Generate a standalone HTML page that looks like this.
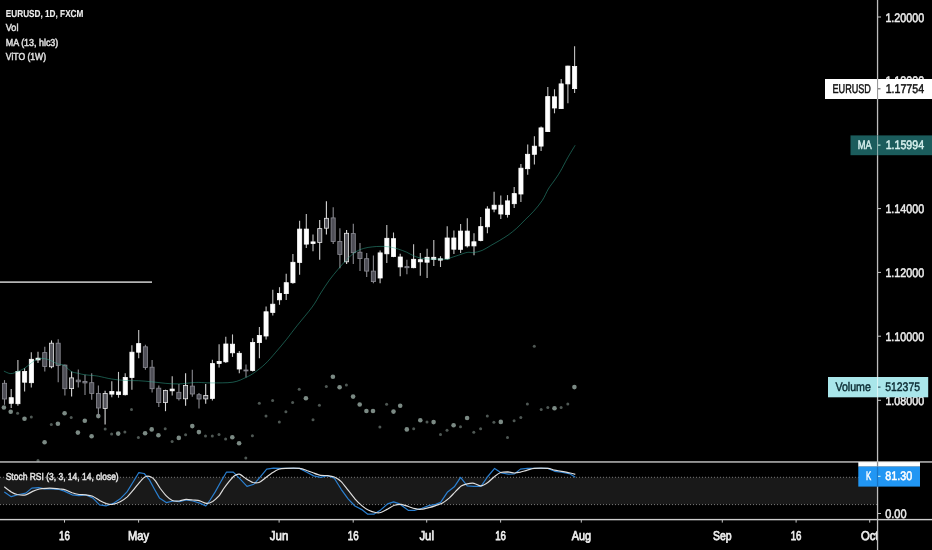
<!DOCTYPE html>
<html><head><meta charset="utf-8"><title>EURUSD, 1D, FXCM</title>
<style>html,body{margin:0;padding:0;background:#000;}body{width:932px;height:550px;overflow:hidden;}svg{display:block;}text{font-family:"Liberation Sans",sans-serif;text-rendering:geometricPrecision;}</style></head><body>
<svg width="932" height="550" viewBox="0 0 932 550">
<rect x="0" y="0" width="932" height="550" fill="#000"/>
<rect x="0" y="477.3" width="877.5" height="27.3" fill="#191919"/>
<line x1="0" y1="477.3" x2="877.5" y2="477.3" stroke="#787878" stroke-width="1" stroke-dasharray="1 2"/>
<line x1="0" y1="504.6" x2="877.5" y2="504.6" stroke="#787878" stroke-width="1" stroke-dasharray="1 2"/>
<line x1="0" y1="282.1" x2="152" y2="282.1" stroke="#b4b4b4" stroke-width="1.6"/>
<g>
<circle cx="3.9" cy="407.5" r="2.30" fill="#7b8a84"/>
<circle cx="10.7" cy="411.8" r="2.30" fill="#7b8a84"/>
<circle cx="17.6" cy="413.3" r="1.50" fill="#4f5854"/>
<circle cx="24.5" cy="418.8" r="2.30" fill="#7b8a84"/>
<circle cx="31.3" cy="417.1" r="1.50" fill="#4f5854"/>
<circle cx="38.0" cy="460.5" r="1.50" fill="#4f5854"/>
<circle cx="44.6" cy="442.2" r="2.30" fill="#7b8a84"/>
<circle cx="51.3" cy="424.4" r="1.50" fill="#4f5854"/>
<circle cx="57.9" cy="423.8" r="2.30" fill="#7b8a84"/>
<circle cx="64.6" cy="413.3" r="2.30" fill="#7b8a84"/>
<circle cx="71.2" cy="417.6" r="1.50" fill="#4f5854"/>
<circle cx="77.9" cy="432.6" r="2.30" fill="#7b8a84"/>
<circle cx="84.8" cy="420.8" r="2.30" fill="#7b8a84"/>
<circle cx="91.6" cy="436.2" r="2.30" fill="#7b8a84"/>
<circle cx="98.3" cy="416.1" r="2.30" fill="#7b8a84"/>
<circle cx="105.2" cy="428.9" r="1.50" fill="#4f5854"/>
<circle cx="111.6" cy="434.1" r="1.50" fill="#4f5854"/>
<circle cx="118.2" cy="433.6" r="2.30" fill="#7b8a84"/>
<circle cx="124.9" cy="432.1" r="1.50" fill="#4f5854"/>
<circle cx="131.5" cy="409.6" r="1.50" fill="#4f5854"/>
<circle cx="138.4" cy="437.5" r="1.50" fill="#4f5854"/>
<circle cx="145.1" cy="433.2" r="2.30" fill="#7b8a84"/>
<circle cx="151.7" cy="429.4" r="2.30" fill="#7b8a84"/>
<circle cx="158.4" cy="435.2" r="2.30" fill="#7b8a84"/>
<circle cx="165.2" cy="428.7" r="1.50" fill="#4f5854"/>
<circle cx="172.1" cy="441.6" r="1.50" fill="#4f5854"/>
<circle cx="178.8" cy="437.9" r="2.30" fill="#7b8a84"/>
<circle cx="185.6" cy="434.7" r="1.50" fill="#4f5854"/>
<circle cx="192.3" cy="426.1" r="2.30" fill="#7b8a84"/>
<circle cx="198.9" cy="432.1" r="2.30" fill="#7b8a84"/>
<circle cx="205.5" cy="435.9" r="1.50" fill="#4f5854"/>
<circle cx="212.3" cy="435.9" r="1.50" fill="#4f5854"/>
<circle cx="219.0" cy="434.4" r="1.50" fill="#4f5854"/>
<circle cx="259.3" cy="403.3" r="1.50" fill="#4f5854"/>
<circle cx="266.0" cy="416.1" r="1.50" fill="#4f5854"/>
<circle cx="272.6" cy="400.5" r="1.50" fill="#4f5854"/>
<circle cx="279.3" cy="421.9" r="1.50" fill="#4f5854"/>
<circle cx="285.9" cy="411.8" r="1.50" fill="#4f5854"/>
<circle cx="292.6" cy="402.6" r="1.50" fill="#4f5854"/>
<circle cx="299.2" cy="389.3" r="1.50" fill="#4f5854"/>
<circle cx="305.9" cy="398.3" r="2.30" fill="#7b8a84"/>
<circle cx="313.0" cy="419.8" r="1.50" fill="#4f5854"/>
<circle cx="319.4" cy="405.2" r="1.50" fill="#4f5854"/>
<circle cx="326.3" cy="386.5" r="1.50" fill="#4f5854"/>
<circle cx="332.9" cy="376.7" r="2.30" fill="#7b8a84"/>
<circle cx="339.6" cy="387.2" r="2.30" fill="#7b8a84"/>
<circle cx="346.4" cy="385.0" r="1.50" fill="#4f5854"/>
<circle cx="353.1" cy="396.6" r="2.30" fill="#7b8a84"/>
<circle cx="359.7" cy="404.5" r="2.30" fill="#7b8a84"/>
<circle cx="366.4" cy="411.0" r="2.30" fill="#7b8a84"/>
<circle cx="373.0" cy="411.0" r="2.30" fill="#7b8a84"/>
<circle cx="379.9" cy="426.9" r="1.50" fill="#4f5854"/>
<circle cx="386.6" cy="404.3" r="1.50" fill="#4f5854"/>
<circle cx="225.6" cy="439.0" r="1.50" fill="#4f5854"/>
<circle cx="232.3" cy="437.3" r="2.30" fill="#7b8a84"/>
<circle cx="239.1" cy="443.3" r="2.30" fill="#7b8a84"/>
<circle cx="245.8" cy="457.9" r="1.50" fill="#4f5854"/>
<circle cx="252.4" cy="435.8" r="1.50" fill="#4f5854"/>
<circle cx="393.5" cy="411.6" r="2.30" fill="#7b8a84"/>
<circle cx="400.2" cy="405.8" r="2.30" fill="#7b8a84"/>
<circle cx="406.8" cy="429.4" r="2.30" fill="#7b8a84"/>
<circle cx="413.7" cy="428.8" r="1.50" fill="#4f5854"/>
<circle cx="420.3" cy="420.2" r="2.30" fill="#7b8a84"/>
<circle cx="427.0" cy="422.1" r="1.50" fill="#4f5854"/>
<circle cx="433.6" cy="422.1" r="2.30" fill="#7b8a84"/>
<circle cx="440.5" cy="434.6" r="1.50" fill="#4f5854"/>
<circle cx="447.0" cy="430.3" r="1.50" fill="#4f5854"/>
<circle cx="453.6" cy="425.3" r="2.30" fill="#7b8a84"/>
<circle cx="460.5" cy="426.8" r="1.50" fill="#4f5854"/>
<circle cx="467.1" cy="418.0" r="2.30" fill="#7b8a84"/>
<circle cx="473.8" cy="432.2" r="1.50" fill="#4f5854"/>
<circle cx="480.6" cy="428.8" r="1.50" fill="#4f5854"/>
<circle cx="487.3" cy="415.9" r="1.50" fill="#4f5854"/>
<circle cx="493.9" cy="422.3" r="1.50" fill="#4f5854"/>
<circle cx="500.8" cy="421.9" r="2.30" fill="#7b8a84"/>
<circle cx="507.5" cy="437.4" r="1.50" fill="#4f5854"/>
<circle cx="514.1" cy="420.8" r="1.50" fill="#4f5854"/>
<circle cx="520.8" cy="417.6" r="1.50" fill="#4f5854"/>
<circle cx="527.4" cy="403.9" r="1.50" fill="#4f5854"/>
<circle cx="534.3" cy="346.2" r="1.50" fill="#4f5854"/>
<circle cx="541.2" cy="409.5" r="1.50" fill="#4f5854"/>
<circle cx="547.8" cy="407.5" r="1.50" fill="#4f5854"/>
<circle cx="554.5" cy="408.2" r="2.30" fill="#7b8a84"/>
<circle cx="561.1" cy="407.5" r="1.50" fill="#4f5854"/>
<circle cx="567.8" cy="403.9" r="1.50" fill="#4f5854"/>
<circle cx="574.4" cy="387.1" r="2.30" fill="#7b8a84"/>
</g>
<g shape-rendering="auto">
<line x1="4.5" y1="380.1" x2="4.5" y2="404.8" stroke="#8a8a90" stroke-width="1.1"/>
<rect x="2.5" y="383.3" width="4.1" height="15.7" fill="#4f4f57" stroke="#8c8c94" stroke-width="0.8"/>
<line x1="11.2" y1="389.1" x2="11.2" y2="408.0" stroke="#c4c4c4" stroke-width="1.1"/>
<rect x="9.2" y="397.7" width="4.1" height="5.6" fill="#ffffff" stroke="#ffffff" stroke-width="0.8"/>
<line x1="17.9" y1="360.1" x2="17.9" y2="405.8" stroke="#c4c4c4" stroke-width="1.1"/>
<rect x="15.9" y="371.5" width="4.1" height="32.2" fill="#ffffff" stroke="#ffffff" stroke-width="0.8"/>
<line x1="24.6" y1="368.3" x2="24.6" y2="391.5" stroke="#c4c4c4" stroke-width="1.1"/>
<rect x="22.6" y="371.5" width="4.1" height="10.7" fill="#ffffff" stroke="#ffffff" stroke-width="0.8"/>
<line x1="31.3" y1="352.2" x2="31.3" y2="387.6" stroke="#c4c4c4" stroke-width="1.1"/>
<rect x="29.3" y="359.3" width="4.1" height="23.4" fill="#ffffff" stroke="#ffffff" stroke-width="0.8"/>
<line x1="38.0" y1="351.8" x2="38.0" y2="362.9" stroke="#c4c4c4" stroke-width="1.1"/>
<rect x="36.0" y="358.2" width="4.1" height="1.7" fill="#ffffff" stroke="#ffffff" stroke-width="0.8"/>
<line x1="44.8" y1="346.8" x2="44.8" y2="371.5" stroke="#8a8a90" stroke-width="1.1"/>
<rect x="42.7" y="352.6" width="4.1" height="13.9" fill="#4f4f57" stroke="#8c8c94" stroke-width="0.8"/>
<line x1="51.5" y1="340.4" x2="51.5" y2="368.3" stroke="#d8d8d8" stroke-width="1.1"/>
<rect x="49.4" y="343.2" width="4.1" height="23.6" fill="#55555c" stroke="#e6e6e6" stroke-width="0.8"/>
<line x1="58.2" y1="339.3" x2="58.2" y2="382.2" stroke="#8a8a90" stroke-width="1.1"/>
<rect x="56.1" y="343.2" width="4.1" height="22.3" fill="#4f4f57" stroke="#8c8c94" stroke-width="0.8"/>
<line x1="64.9" y1="364.6" x2="64.9" y2="395.5" stroke="#8a8a90" stroke-width="1.1"/>
<rect x="62.8" y="365.1" width="4.1" height="23.6" fill="#4f4f57" stroke="#8c8c94" stroke-width="0.8"/>
<line x1="71.6" y1="371.5" x2="71.6" y2="396.6" stroke="#d8d8d8" stroke-width="1.1"/>
<rect x="69.5" y="377.9" width="4.1" height="10.7" fill="#55555c" stroke="#e6e6e6" stroke-width="0.8"/>
<line x1="78.3" y1="369.4" x2="78.3" y2="387.6" stroke="#8a8a90" stroke-width="1.1"/>
<rect x="76.2" y="380.1" width="4.1" height="1.7" fill="#4f4f57" stroke="#8c8c94" stroke-width="0.8"/>
<line x1="85.0" y1="374.7" x2="85.0" y2="395.1" stroke="#8a8a90" stroke-width="1.1"/>
<rect x="82.9" y="381.4" width="4.1" height="1.5" fill="#4f4f57" stroke="#8c8c94" stroke-width="0.8"/>
<line x1="91.7" y1="373.2" x2="91.7" y2="399.8" stroke="#8a8a90" stroke-width="1.1"/>
<rect x="89.7" y="382.7" width="4.1" height="10.7" fill="#4f4f57" stroke="#8c8c94" stroke-width="0.8"/>
<line x1="98.4" y1="385.5" x2="98.4" y2="417.6" stroke="#8a8a90" stroke-width="1.1"/>
<rect x="96.4" y="393.4" width="4.1" height="14.6" fill="#4f4f57" stroke="#8c8c94" stroke-width="0.8"/>
<line x1="105.1" y1="390.8" x2="105.1" y2="424.5" stroke="#d8d8d8" stroke-width="1.1"/>
<rect x="103.1" y="393.4" width="4.1" height="15.0" fill="#55555c" stroke="#e6e6e6" stroke-width="0.8"/>
<line x1="111.8" y1="381.2" x2="111.8" y2="397.3" stroke="#c4c4c4" stroke-width="1.1"/>
<rect x="109.8" y="391.5" width="4.1" height="2.6" fill="#ffffff" stroke="#ffffff" stroke-width="0.8"/>
<line x1="118.5" y1="371.9" x2="118.5" y2="397.7" stroke="#c4c4c4" stroke-width="1.1"/>
<rect x="116.5" y="391.9" width="4.1" height="2.6" fill="#ffffff" stroke="#ffffff" stroke-width="0.8"/>
<line x1="125.2" y1="373.2" x2="125.2" y2="395.5" stroke="#c4c4c4" stroke-width="1.1"/>
<rect x="123.2" y="377.5" width="4.1" height="17.2" fill="#ffffff" stroke="#ffffff" stroke-width="0.8"/>
<line x1="131.9" y1="345.3" x2="131.9" y2="389.7" stroke="#c4c4c4" stroke-width="1.1"/>
<rect x="129.9" y="352.2" width="4.1" height="25.3" fill="#ffffff" stroke="#ffffff" stroke-width="0.8"/>
<line x1="138.7" y1="330.1" x2="138.7" y2="358.2" stroke="#c4c4c4" stroke-width="1.1"/>
<rect x="136.6" y="343.6" width="4.1" height="8.6" fill="#ffffff" stroke="#ffffff" stroke-width="0.8"/>
<line x1="145.4" y1="344.7" x2="145.4" y2="369.8" stroke="#8a8a90" stroke-width="1.1"/>
<rect x="143.3" y="346.8" width="4.1" height="20.8" fill="#4f4f57" stroke="#8c8c94" stroke-width="0.8"/>
<line x1="152.1" y1="360.1" x2="152.1" y2="392.5" stroke="#8a8a90" stroke-width="1.1"/>
<rect x="150.0" y="367.2" width="4.1" height="21.5" fill="#4f4f57" stroke="#8c8c94" stroke-width="0.8"/>
<line x1="158.8" y1="385.5" x2="158.8" y2="406.9" stroke="#8a8a90" stroke-width="1.1"/>
<rect x="156.7" y="388.2" width="4.1" height="14.4" fill="#4f4f57" stroke="#8c8c94" stroke-width="0.8"/>
<line x1="165.5" y1="389.7" x2="165.5" y2="411.2" stroke="#d8d8d8" stroke-width="1.1"/>
<rect x="163.4" y="390.4" width="4.1" height="12.2" fill="#55555c" stroke="#e6e6e6" stroke-width="0.8"/>
<line x1="172.2" y1="376.2" x2="172.2" y2="395.5" stroke="#c4c4c4" stroke-width="1.1"/>
<rect x="170.1" y="389.1" width="4.1" height="1.7" fill="#ffffff" stroke="#ffffff" stroke-width="0.8"/>
<line x1="178.9" y1="383.9" x2="178.9" y2="400.5" stroke="#8a8a90" stroke-width="1.1"/>
<rect x="176.8" y="392.3" width="4.1" height="6.4" fill="#4f4f57" stroke="#8c8c94" stroke-width="0.8"/>
<line x1="185.6" y1="373.2" x2="185.6" y2="405.8" stroke="#d8d8d8" stroke-width="1.1"/>
<rect x="183.5" y="385.5" width="4.1" height="13.3" fill="#55555c" stroke="#e6e6e6" stroke-width="0.8"/>
<line x1="192.3" y1="369.8" x2="192.3" y2="396.8" stroke="#8a8a90" stroke-width="1.1"/>
<rect x="190.3" y="386.1" width="4.1" height="7.9" fill="#4f4f57" stroke="#8c8c94" stroke-width="0.8"/>
<line x1="199.0" y1="393.0" x2="199.0" y2="408.4" stroke="#8a8a90" stroke-width="1.1"/>
<rect x="197.0" y="394.7" width="4.1" height="4.3" fill="#4f4f57" stroke="#8c8c94" stroke-width="0.8"/>
<line x1="205.7" y1="383.9" x2="205.7" y2="403.7" stroke="#d8d8d8" stroke-width="1.1"/>
<rect x="203.7" y="395.5" width="4.1" height="3.4" fill="#55555c" stroke="#e6e6e6" stroke-width="0.8"/>
<line x1="212.4" y1="359.7" x2="212.4" y2="400.5" stroke="#c4c4c4" stroke-width="1.1"/>
<rect x="210.4" y="363.6" width="4.1" height="34.8" fill="#ffffff" stroke="#ffffff" stroke-width="0.8"/>
<line x1="219.1" y1="344.2" x2="219.1" y2="367.6" stroke="#c4c4c4" stroke-width="1.1"/>
<rect x="217.1" y="361.4" width="4.1" height="2.1" fill="#ffffff" stroke="#ffffff" stroke-width="0.8"/>
<line x1="225.8" y1="336.7" x2="225.8" y2="362.9" stroke="#c4c4c4" stroke-width="1.1"/>
<rect x="223.8" y="344.0" width="4.1" height="17.8" fill="#ffffff" stroke="#ffffff" stroke-width="0.8"/>
<line x1="232.5" y1="334.4" x2="232.5" y2="356.9" stroke="#c4c4c4" stroke-width="1.1"/>
<rect x="230.5" y="344.2" width="4.1" height="8.6" fill="#ffffff" stroke="#ffffff" stroke-width="0.8"/>
<line x1="239.3" y1="351.1" x2="239.3" y2="373.2" stroke="#c4c4c4" stroke-width="1.1"/>
<rect x="237.2" y="353.3" width="4.1" height="15.7" fill="#ffffff" stroke="#ffffff" stroke-width="0.8"/>
<line x1="246.0" y1="364.4" x2="246.0" y2="377.5" stroke="#8a8a90" stroke-width="1.1"/>
<rect x="243.9" y="370.0" width="4.1" height="0.9" fill="#4f4f57" stroke="#8c8c94" stroke-width="0.8"/>
<line x1="252.7" y1="338.2" x2="252.7" y2="371.5" stroke="#c4c4c4" stroke-width="1.1"/>
<rect x="250.6" y="342.5" width="4.1" height="27.9" fill="#ffffff" stroke="#ffffff" stroke-width="0.8"/>
<line x1="259.4" y1="326.9" x2="259.4" y2="358.2" stroke="#c4c4c4" stroke-width="1.1"/>
<rect x="257.3" y="335.5" width="4.1" height="7.1" fill="#ffffff" stroke="#ffffff" stroke-width="0.8"/>
<line x1="266.1" y1="306.5" x2="266.1" y2="339.6" stroke="#c4c4c4" stroke-width="1.1"/>
<rect x="264.0" y="311.8" width="4.1" height="24.2" fill="#ffffff" stroke="#ffffff" stroke-width="0.8"/>
<line x1="272.8" y1="289.8" x2="272.8" y2="315.4" stroke="#c4c4c4" stroke-width="1.1"/>
<rect x="270.7" y="304.2" width="4.1" height="8.2" fill="#ffffff" stroke="#ffffff" stroke-width="0.8"/>
<line x1="279.5" y1="287.2" x2="279.5" y2="304.8" stroke="#c4c4c4" stroke-width="1.1"/>
<rect x="277.4" y="293.4" width="4.1" height="6.4" fill="#ffffff" stroke="#ffffff" stroke-width="0.8"/>
<line x1="286.2" y1="273.7" x2="286.2" y2="299.9" stroke="#c4c4c4" stroke-width="1.1"/>
<rect x="284.2" y="282.7" width="4.1" height="10.9" fill="#ffffff" stroke="#ffffff" stroke-width="0.8"/>
<line x1="292.9" y1="253.9" x2="292.9" y2="283.8" stroke="#c4c4c4" stroke-width="1.1"/>
<rect x="290.9" y="262.3" width="4.1" height="20.4" fill="#ffffff" stroke="#ffffff" stroke-width="0.8"/>
<line x1="299.6" y1="220.7" x2="299.6" y2="274.8" stroke="#c4c4c4" stroke-width="1.1"/>
<rect x="297.6" y="229.1" width="4.1" height="33.3" fill="#ffffff" stroke="#ffffff" stroke-width="0.8"/>
<line x1="306.3" y1="214.0" x2="306.3" y2="247.9" stroke="#c4c4c4" stroke-width="1.1"/>
<rect x="304.3" y="229.1" width="4.1" height="15.0" fill="#ffffff" stroke="#ffffff" stroke-width="0.8"/>
<line x1="313.0" y1="234.4" x2="313.0" y2="251.2" stroke="#c4c4c4" stroke-width="1.1"/>
<rect x="311.0" y="241.9" width="4.1" height="1.7" fill="#ffffff" stroke="#ffffff" stroke-width="0.8"/>
<line x1="319.7" y1="220.0" x2="319.7" y2="259.7" stroke="#d8d8d8" stroke-width="1.1"/>
<rect x="317.7" y="228.6" width="4.1" height="13.9" fill="#55555c" stroke="#e6e6e6" stroke-width="0.8"/>
<line x1="326.4" y1="201.2" x2="326.4" y2="234.6" stroke="#d8d8d8" stroke-width="1.1"/>
<rect x="324.4" y="218.3" width="4.1" height="9.9" fill="#55555c" stroke="#e6e6e6" stroke-width="0.8"/>
<line x1="333.2" y1="207.2" x2="333.2" y2="244.1" stroke="#8a8a90" stroke-width="1.1"/>
<rect x="331.1" y="217.9" width="4.1" height="23.6" fill="#4f4f57" stroke="#8c8c94" stroke-width="0.8"/>
<line x1="339.9" y1="228.2" x2="339.9" y2="268.3" stroke="#8a8a90" stroke-width="1.1"/>
<rect x="337.8" y="241.5" width="4.1" height="12.9" fill="#4f4f57" stroke="#8c8c94" stroke-width="0.8"/>
<line x1="346.6" y1="230.1" x2="346.6" y2="264.0" stroke="#d8d8d8" stroke-width="1.1"/>
<rect x="344.5" y="233.3" width="4.1" height="28.5" fill="#55555c" stroke="#e6e6e6" stroke-width="0.8"/>
<line x1="353.3" y1="223.7" x2="353.3" y2="264.0" stroke="#8a8a90" stroke-width="1.1"/>
<rect x="351.2" y="233.6" width="4.1" height="19.1" fill="#4f4f57" stroke="#8c8c94" stroke-width="0.8"/>
<line x1="360.0" y1="243.0" x2="360.0" y2="270.9" stroke="#8a8a90" stroke-width="1.1"/>
<rect x="357.9" y="252.2" width="4.1" height="6.4" fill="#4f4f57" stroke="#8c8c94" stroke-width="0.8"/>
<line x1="366.7" y1="252.9" x2="366.7" y2="276.9" stroke="#8a8a90" stroke-width="1.1"/>
<rect x="364.6" y="258.7" width="4.1" height="12.4" fill="#4f4f57" stroke="#8c8c94" stroke-width="0.8"/>
<line x1="373.4" y1="255.5" x2="373.4" y2="283.3" stroke="#8a8a90" stroke-width="1.1"/>
<rect x="371.3" y="271.1" width="4.1" height="10.5" fill="#4f4f57" stroke="#8c8c94" stroke-width="0.8"/>
<line x1="380.1" y1="250.5" x2="380.1" y2="283.3" stroke="#c4c4c4" stroke-width="1.1"/>
<rect x="378.1" y="252.9" width="4.1" height="25.1" fill="#ffffff" stroke="#ffffff" stroke-width="0.8"/>
<line x1="386.8" y1="225.0" x2="386.8" y2="263.0" stroke="#c4c4c4" stroke-width="1.1"/>
<rect x="384.8" y="238.3" width="4.1" height="15.5" fill="#ffffff" stroke="#ffffff" stroke-width="0.8"/>
<line x1="393.5" y1="232.5" x2="393.5" y2="257.2" stroke="#c4c4c4" stroke-width="1.1"/>
<rect x="391.5" y="238.7" width="4.1" height="17.8" fill="#ffffff" stroke="#ffffff" stroke-width="0.8"/>
<line x1="400.2" y1="253.7" x2="400.2" y2="276.3" stroke="#c4c4c4" stroke-width="1.1"/>
<rect x="398.2" y="257.0" width="4.1" height="9.9" fill="#ffffff" stroke="#ffffff" stroke-width="0.8"/>
<line x1="406.9" y1="259.7" x2="406.9" y2="274.3" stroke="#8a8a90" stroke-width="1.1"/>
<rect x="404.9" y="266.6" width="4.1" height="1.1" fill="#4f4f57" stroke="#8c8c94" stroke-width="0.8"/>
<line x1="413.6" y1="244.3" x2="413.6" y2="268.3" stroke="#c4c4c4" stroke-width="1.1"/>
<rect x="411.6" y="259.3" width="4.1" height="8.4" fill="#ffffff" stroke="#ffffff" stroke-width="0.8"/>
<line x1="420.3" y1="252.9" x2="420.3" y2="275.8" stroke="#c4c4c4" stroke-width="1.1"/>
<rect x="418.3" y="259.7" width="4.1" height="2.1" fill="#ffffff" stroke="#ffffff" stroke-width="0.8"/>
<line x1="427.1" y1="248.7" x2="427.1" y2="277.9" stroke="#c4c4c4" stroke-width="1.1"/>
<rect x="425.0" y="257.3" width="4.1" height="4.9" fill="#ffffff" stroke="#ffffff" stroke-width="0.8"/>
<line x1="433.8" y1="240.1" x2="433.8" y2="265.9" stroke="#c4c4c4" stroke-width="1.1"/>
<rect x="431.7" y="257.3" width="4.1" height="2.1" fill="#ffffff" stroke="#ffffff" stroke-width="0.8"/>
<line x1="440.5" y1="256.2" x2="440.5" y2="267.0" stroke="#c4c4c4" stroke-width="1.1"/>
<rect x="438.4" y="258.8" width="4.1" height="1.3" fill="#ffffff" stroke="#ffffff" stroke-width="0.8"/>
<line x1="447.2" y1="226.2" x2="447.2" y2="259.4" stroke="#c4c4c4" stroke-width="1.1"/>
<rect x="445.1" y="238.0" width="4.1" height="20.8" fill="#ffffff" stroke="#ffffff" stroke-width="0.8"/>
<line x1="453.9" y1="230.5" x2="453.9" y2="254.1" stroke="#c4c4c4" stroke-width="1.1"/>
<rect x="451.8" y="238.0" width="4.1" height="11.2" fill="#ffffff" stroke="#ffffff" stroke-width="0.8"/>
<line x1="460.6" y1="224.0" x2="460.6" y2="253.0" stroke="#c4c4c4" stroke-width="1.1"/>
<rect x="458.5" y="231.1" width="4.1" height="18.2" fill="#ffffff" stroke="#ffffff" stroke-width="0.8"/>
<line x1="467.3" y1="218.2" x2="467.3" y2="247.6" stroke="#c4c4c4" stroke-width="1.1"/>
<rect x="465.2" y="231.1" width="4.1" height="14.8" fill="#ffffff" stroke="#ffffff" stroke-width="0.8"/>
<line x1="474.0" y1="233.3" x2="474.0" y2="255.2" stroke="#c4c4c4" stroke-width="1.1"/>
<rect x="471.9" y="241.8" width="4.1" height="4.1" fill="#ffffff" stroke="#ffffff" stroke-width="0.8"/>
<line x1="480.7" y1="217.0" x2="480.7" y2="241.2" stroke="#c4c4c4" stroke-width="1.1"/>
<rect x="478.7" y="226.6" width="4.1" height="13.9" fill="#ffffff" stroke="#ffffff" stroke-width="0.8"/>
<line x1="487.4" y1="206.2" x2="487.4" y2="233.3" stroke="#c4c4c4" stroke-width="1.1"/>
<rect x="485.4" y="209.0" width="4.1" height="17.8" fill="#ffffff" stroke="#ffffff" stroke-width="0.8"/>
<line x1="494.1" y1="191.8" x2="494.1" y2="212.2" stroke="#c4c4c4" stroke-width="1.1"/>
<rect x="492.1" y="205.2" width="4.1" height="3.9" fill="#ffffff" stroke="#ffffff" stroke-width="0.8"/>
<line x1="500.8" y1="195.5" x2="500.8" y2="219.1" stroke="#c4c4c4" stroke-width="1.1"/>
<rect x="498.8" y="205.2" width="4.1" height="8.8" fill="#ffffff" stroke="#ffffff" stroke-width="0.8"/>
<line x1="507.5" y1="195.1" x2="507.5" y2="217.6" stroke="#c4c4c4" stroke-width="1.1"/>
<rect x="505.5" y="200.9" width="4.1" height="13.5" fill="#ffffff" stroke="#ffffff" stroke-width="0.8"/>
<line x1="514.2" y1="186.9" x2="514.2" y2="207.9" stroke="#c4c4c4" stroke-width="1.1"/>
<rect x="512.2" y="193.6" width="4.1" height="10.1" fill="#ffffff" stroke="#ffffff" stroke-width="0.8"/>
<line x1="520.9" y1="163.9" x2="520.9" y2="201.9" stroke="#c4c4c4" stroke-width="1.1"/>
<rect x="518.9" y="168.2" width="4.1" height="25.8" fill="#ffffff" stroke="#ffffff" stroke-width="0.8"/>
<line x1="527.7" y1="144.4" x2="527.7" y2="174.7" stroke="#c4c4c4" stroke-width="1.1"/>
<rect x="525.6" y="154.3" width="4.1" height="14.4" fill="#ffffff" stroke="#ffffff" stroke-width="0.8"/>
<line x1="534.4" y1="136.3" x2="534.4" y2="164.6" stroke="#c4c4c4" stroke-width="1.1"/>
<rect x="532.3" y="146.2" width="4.1" height="8.1" fill="#ffffff" stroke="#ffffff" stroke-width="0.8"/>
<line x1="541.1" y1="126.6" x2="541.1" y2="150.9" stroke="#c4c4c4" stroke-width="1.1"/>
<rect x="539.0" y="127.9" width="4.1" height="18.2" fill="#ffffff" stroke="#ffffff" stroke-width="0.8"/>
<line x1="547.8" y1="86.9" x2="547.8" y2="132.0" stroke="#c4c4c4" stroke-width="1.1"/>
<rect x="545.7" y="96.6" width="4.1" height="35.0" fill="#ffffff" stroke="#ffffff" stroke-width="0.8"/>
<line x1="554.5" y1="89.3" x2="554.5" y2="113.3" stroke="#c4c4c4" stroke-width="1.1"/>
<rect x="552.4" y="96.8" width="4.1" height="11.2" fill="#ffffff" stroke="#ffffff" stroke-width="0.8"/>
<line x1="561.2" y1="79.0" x2="561.2" y2="109.0" stroke="#c4c4c4" stroke-width="1.1"/>
<rect x="559.1" y="83.9" width="4.1" height="24.7" fill="#ffffff" stroke="#ffffff" stroke-width="0.8"/>
<line x1="567.9" y1="65.7" x2="567.9" y2="103.2" stroke="#c4c4c4" stroke-width="1.1"/>
<rect x="565.8" y="66.1" width="4.1" height="17.8" fill="#ffffff" stroke="#ffffff" stroke-width="0.8"/>
<line x1="574.6" y1="46.2" x2="574.6" y2="92.9" stroke="#c4c4c4" stroke-width="1.1"/>
<rect x="572.6" y="66.5" width="4.1" height="22.1" fill="#ffffff" stroke="#ffffff" stroke-width="0.8"/>
</g>
<path d="M3.9 371.1 C5.0 371.5 8.4 373.6 10.7 373.6 C13.0 373.7 15.3 372.4 17.6 371.5 C19.9 370.6 22.2 369.7 24.5 368.3 C26.8 366.9 29.1 364.5 31.3 362.9 C33.6 361.4 35.8 359.8 38.0 359.1 C40.2 358.3 42.4 358.3 44.6 358.6 C46.9 358.9 49.1 359.9 51.3 360.8 C53.5 361.7 55.5 363.2 57.7 364.0 C59.9 364.8 62.1 364.2 64.4 365.5 C66.6 366.7 69.0 370.2 71.2 371.5 C73.5 372.8 75.7 372.7 77.9 373.2 C80.1 373.8 82.3 374.4 84.5 374.7 C86.8 375.1 89.1 375.1 91.4 375.4 C93.7 375.6 94.9 375.6 98.3 376.2 C101.6 376.8 107.1 378.3 111.6 379.0 C116.1 379.7 120.6 380.2 125.1 380.5 C129.6 380.8 133.9 380.5 138.4 380.7 C142.9 380.9 147.5 381.4 151.9 381.8 C156.4 382.2 160.8 382.9 165.2 383.3 C169.7 383.7 174.2 384.1 178.8 383.9 C183.3 383.8 188.9 382.9 192.3 382.7 C195.6 382.4 195.6 382.4 198.8 382.4 C202.0 382.5 205.8 382.9 211.5 382.9 C217.1 382.8 227.2 383.1 232.9 382.2 C238.6 381.3 242.2 379.1 245.8 377.5 C249.4 375.9 251.2 374.8 254.4 372.6 C257.6 370.3 261.5 367.4 265.1 364.0 C268.7 360.6 272.3 356.3 275.8 352.2 C279.4 348.1 283.0 343.8 286.6 339.3 C290.1 334.8 293.0 330.8 297.3 325.4 C301.6 320.0 308.3 312.3 312.2 307.0 C316.2 301.6 318.0 297.5 320.8 293.0 C323.7 288.5 326.5 284.1 329.4 280.1 C332.3 276.2 335.1 272.8 338.0 269.4 C340.8 266.0 343.7 262.6 346.6 259.7 C349.4 256.9 352.3 254.1 355.2 252.2 C358.0 250.3 360.9 249.3 363.7 248.4 C366.6 247.5 369.5 247.2 372.3 246.9 C375.2 246.5 378.0 246.4 380.9 246.4 C383.8 246.4 386.6 246.4 389.5 246.9 C392.3 247.3 395.2 248.1 398.1 249.0 C400.9 249.9 403.8 251.0 406.7 252.2 C409.5 253.5 412.4 255.5 415.2 256.5 C418.1 257.6 421.0 258.2 423.8 258.7 C426.7 259.1 429.5 259.0 432.4 259.1 C435.3 259.2 438.4 259.0 441.0 259.1 C443.6 259.2 446.5 259.6 447.9 259.4 C449.3 259.3 447.8 259.0 449.6 258.2 C451.4 257.5 455.7 256.1 458.6 255.2 C461.6 254.2 464.7 252.8 467.2 252.4 C469.7 251.9 471.1 252.9 473.6 252.6 C476.2 252.3 479.4 251.6 482.2 250.4 C485.1 249.2 488.0 247.1 490.8 245.5 C493.7 243.8 496.5 242.3 499.4 240.6 C502.3 238.8 505.1 237.2 508.0 235.2 C510.8 233.2 513.7 230.9 516.6 228.3 C519.4 225.8 522.3 222.6 525.2 219.7 C528.0 216.9 530.9 214.4 533.7 211.2 C536.6 207.9 539.9 204.1 542.3 200.4 C544.7 196.7 546.4 192.2 548.3 189.0 C550.2 185.8 552.0 183.9 554.0 181.0 C556.0 178.1 557.8 175.7 560.1 171.8 C562.4 168.0 565.1 162.3 567.6 157.9 C570.1 153.5 573.9 147.4 575.1 145.3" fill="none" stroke="#32ac94" stroke-opacity="0.52" stroke-width="0.95" stroke-linejoin="round"/>
<path d="M4.3 491.9 L11.2 496.7 L18.9 494.5 L25.8 493.1 L31.8 488.1 L38.6 487.6 L44.6 488.8 L51.5 488.8 L58.4 489.3 L64.4 491.1 L72.1 494.8 L79.0 495.7 L85.8 495.0 L92.7 497.9 L99.6 504.8 L106.4 505.8 L113.3 503.4 L120.2 498.8 L127.0 491.9 L133.9 480.8 L138.7 472.7 L144.2 473.5 L149.4 479.9 L154.5 489.3 L159.4 497.9 L166.3 502.6 L173.2 501.0 L179.2 501.7 L186.1 500.0 L192.9 501.0 L199.8 503.1 L205.8 506.0 L210.1 500.0 L215.2 491.9 L220.4 482.5 L226.4 472.2 L233.3 472.2 L239.3 478.2 L247.0 486.4 L253.9 484.2 L259.9 477.3 L266.7 469.2 L273.6 468.2 L280.5 468.4 L287.3 468.4 L299.4 468.4 L306.9 472.2 L313.7 475.9 L320.6 477.3 L327.5 475.6 L334.3 478.2 L341.2 489.3 L348.1 498.8 L354.9 506.0 L361.8 509.6 L367.8 514.2 L373.8 514.2 L380.7 509.9 L387.6 503.9 L393.6 501.9 L399.6 503.9 L408.2 510.3 L415.0 510.3 L421.9 508.2 L428.8 505.6 L435.6 504.4 L440.8 502.2 L447.6 491.9 L454.3 486.8 L460.6 477.3 L467.2 485.9 L474.0 486.4 L480.9 486.4 L487.8 476.5 L494.6 468.4 L501.5 473.0 L508.4 474.2 L514.4 473.9 L520.4 469.1 L527.3 468.4 L534.1 468.4 L547.9 468.4 L554.7 471.3 L561.6 472.2 L570.2 473.9 L575.3 477.3" fill="none" stroke="#2a7fd0" stroke-width="1.2" stroke-linejoin="round"/>
<path d="M4.3 486.8 C5.1 487.4 9.7 491.0 11.2 491.9 C12.7 492.8 15.5 494.1 17.2 494.5 C18.9 494.8 23.9 495.2 25.8 494.8 C27.6 494.5 31.0 492.1 32.6 491.4 C34.2 490.7 37.9 489.4 39.5 489.0 C41.1 488.6 44.7 488.4 46.4 488.3 C48.0 488.2 51.6 488.2 53.2 488.3 C54.8 488.4 58.7 488.8 60.1 489.0 C61.5 489.2 63.8 489.4 65.2 489.8 C66.6 490.3 70.5 492.2 72.1 492.8 C73.7 493.3 77.4 494.2 79.0 494.5 C80.6 494.7 84.2 494.6 85.8 494.8 C87.4 495.0 91.1 495.5 92.7 496.2 C94.3 496.9 98.0 499.6 99.6 500.5 C101.2 501.4 104.9 503.1 106.4 503.6 C107.9 504.0 110.8 504.7 112.4 504.4 C114.0 504.2 118.5 502.6 120.2 501.7 C121.9 500.8 125.4 498.5 127.0 497.1 C128.6 495.6 132.3 491.2 133.9 489.3 C135.5 487.4 139.4 482.3 140.8 480.8 C142.2 479.2 144.7 476.9 145.9 476.5 C147.1 476.0 150.0 476.5 151.1 477.0 C152.2 477.5 154.3 479.4 155.4 480.8 C156.4 482.1 159.0 486.7 160.3 488.5 C161.6 490.2 164.9 494.5 166.3 495.9 C167.7 497.3 170.8 499.9 172.3 500.5 C173.8 501.1 177.6 501.1 179.2 501.0 C180.8 500.9 184.4 499.4 186.1 499.3 C187.7 499.2 191.3 499.8 192.9 500.0 C194.5 500.2 198.2 500.4 199.8 500.8 C201.4 501.2 205.2 503.4 206.7 503.4 C208.2 503.5 211.3 502.2 212.7 501.4 C214.1 500.5 217.4 497.7 218.7 496.2 C220.0 494.7 222.6 490.2 223.8 488.5 C225.0 486.8 227.8 483.1 229.0 481.6 C230.2 480.1 232.9 476.8 234.1 475.9 C235.3 475.1 237.9 473.9 239.3 474.2 C240.7 474.5 244.5 477.7 246.1 478.7 C247.7 479.7 251.5 482.0 253.0 482.5 C254.5 482.9 257.6 483.0 259.0 482.5 C260.4 482.0 263.5 479.3 265.0 478.2 C266.5 477.1 270.3 474.1 271.9 473.0 C273.5 472.0 277.2 469.8 278.8 469.2 C280.4 468.7 283.2 468.5 285.6 468.4 C288.0 468.3 296.9 468.2 299.4 468.4 C301.8 468.6 305.2 469.9 306.9 470.5 C308.5 471.0 312.1 472.5 313.7 473.0 C315.3 473.6 319.0 475.0 320.6 475.3 C322.2 475.6 325.9 475.4 327.5 475.6 C329.1 475.8 332.7 476.3 334.3 477.0 C335.9 477.7 339.6 480.1 341.2 481.6 C342.8 483.2 346.5 488.2 348.1 490.2 C349.7 492.2 353.3 497.0 354.9 498.8 C356.5 500.6 360.2 504.3 361.8 505.6 C363.4 507.0 367.1 509.5 368.7 510.3 C370.3 511.1 374.1 512.3 375.5 512.5 C376.9 512.8 379.3 512.9 380.7 512.5 C382.1 512.1 386.0 509.9 387.6 509.1 C389.2 508.2 392.8 505.8 394.4 505.3 C396.0 504.8 399.7 504.3 401.3 504.4 C402.9 504.6 406.6 506.0 408.2 506.5 C409.8 507.0 413.4 508.4 415.0 508.7 C416.6 509.1 420.3 509.4 421.9 509.2 C423.5 509.1 427.2 508.1 428.8 507.7 C430.4 507.3 434.0 506.2 435.6 505.6 C437.2 505.1 440.9 504.0 442.5 503.1 C444.1 502.2 447.9 499.2 449.4 497.9 C450.8 496.6 453.8 493.3 455.2 491.9 C456.5 490.5 459.8 486.8 461.2 485.9 C462.6 485.0 465.7 484.1 467.2 483.8 C468.7 483.5 472.4 483.1 474.0 483.3 C475.6 483.6 479.3 486.0 480.9 485.9 C482.5 485.8 486.2 483.6 487.8 482.5 C489.4 481.4 493.1 477.6 494.6 476.5 C496.1 475.3 499.1 473.1 500.6 472.5 C502.1 472.0 505.9 471.8 507.5 471.8 C509.1 471.9 512.9 473.0 514.4 473.0 C515.9 473.1 518.9 472.5 520.4 472.2 C521.9 471.8 525.7 470.5 527.3 470.1 C528.9 469.7 531.7 468.6 534.1 468.4 C536.5 468.2 545.5 468.2 547.9 468.4 C550.3 468.6 553.1 469.8 554.7 470.1 C556.3 470.4 559.8 471.0 561.6 471.3 C563.4 471.6 568.6 472.7 570.2 473.0 C571.8 473.4 574.7 474.2 575.3 474.4" fill="none" stroke="#dedede" stroke-width="1.2" stroke-linejoin="round"/>
<rect x="0" y="461.2" width="932" height="1.5" fill="#b9b9b9"/>
<rect x="0" y="518.9" width="932" height="1.4" fill="#cdcdcd"/>
<rect x="876.9" y="0" width="1.3" height="550" fill="#bdbdbd"/>
<rect x="878" y="16.5" width="3" height="1" fill="#c4c4c4"/>
<text x="885.4" y="22.0" font-size="12.4" fill="#eeeeee" font-weight="normal" text-anchor="start" textLength="38.8" lengthAdjust="spacingAndGlyphs" stroke="#eeeeee" stroke-width="0.50">1.20000</text>
<rect x="878" y="80.3" width="3" height="1" fill="#c4c4c4"/>
<text x="885.4" y="85.0" font-size="12.4" fill="#eeeeee" font-weight="normal" text-anchor="start" textLength="38.8" lengthAdjust="spacingAndGlyphs" stroke="#eeeeee" stroke-width="0.50">1.18000</text>
<rect x="878" y="208.1" width="3" height="1" fill="#c4c4c4"/>
<text x="885.4" y="213.0" font-size="12.4" fill="#eeeeee" font-weight="normal" text-anchor="start" textLength="38.8" lengthAdjust="spacingAndGlyphs" stroke="#eeeeee" stroke-width="0.50">1.14000</text>
<rect x="878" y="271.9" width="3" height="1" fill="#c4c4c4"/>
<text x="885.4" y="277.0" font-size="12.4" fill="#eeeeee" font-weight="normal" text-anchor="start" textLength="38.8" lengthAdjust="spacingAndGlyphs" stroke="#eeeeee" stroke-width="0.50">1.12000</text>
<rect x="878" y="335.7" width="3" height="1" fill="#c4c4c4"/>
<text x="885.4" y="341.0" font-size="12.4" fill="#eeeeee" font-weight="normal" text-anchor="start" textLength="38.8" lengthAdjust="spacingAndGlyphs" stroke="#eeeeee" stroke-width="0.50">1.10000</text>
<rect x="878" y="399.8" width="3" height="1" fill="#c4c4c4"/>
<text x="885.4" y="405.0" font-size="12.4" fill="#eeeeee" font-weight="normal" text-anchor="start" textLength="38.8" lengthAdjust="spacingAndGlyphs" stroke="#eeeeee" stroke-width="0.50">1.08000</text>
<rect x="878" y="513" width="3" height="1" fill="#c4c4c4"/>
<text x="885.2" y="518.0" font-size="12.4" fill="#eeeeee" font-weight="normal" text-anchor="start" textLength="21.4" lengthAdjust="spacingAndGlyphs" stroke="#eeeeee" stroke-width="0.50">0.00</text>
<rect x="825" y="79" width="107" height="20" fill="#ffffff"/>
<rect x="877" y="79" width="1.1" height="20" fill="#9a9a9a"/>
<rect x="878" y="88.3" width="2.5" height="1" fill="#555"/>
<text x="832.5" y="93.0" font-size="12.7" fill="#111" font-weight="normal" text-anchor="start" textLength="38.4" lengthAdjust="spacingAndGlyphs" stroke="#111" stroke-width="0.50">EURUSD</text>
<text x="885.7" y="93.0" font-size="12.7" fill="#111" font-weight="normal" text-anchor="start" textLength="38.4" lengthAdjust="spacingAndGlyphs" stroke="#111" stroke-width="0.50">1.17754</text>
<rect x="850.5" y="135.4" width="81.5" height="19.8" fill="#1b5c5c"/>
<rect x="877" y="135.4" width="1.1" height="19.8" fill="#8fb0b0"/>
<rect x="878" y="144.6" width="2.5" height="1" fill="#cfe"/>
<text x="857.8" y="149.0" font-size="12.4" fill="#d6f0ee" font-weight="normal" text-anchor="start" textLength="14.0" lengthAdjust="spacingAndGlyphs" stroke="#d6f0ee" stroke-width="0.50">MA</text>
<text x="885.7" y="149.0" font-size="12.4" fill="#d6f0ee" font-weight="normal" text-anchor="start" textLength="38.4" lengthAdjust="spacingAndGlyphs" stroke="#d6f0ee" stroke-width="0.50">1.15994</text>
<rect x="828" y="377" width="100.2" height="20.3" fill="#a9e6ea"/>
<rect x="877" y="377" width="1.1" height="20.3" fill="#d9f4f5"/>
<rect x="878" y="386.6" width="2.5" height="1" fill="#245"/>
<text x="835.4" y="390.9" font-size="12.4" fill="#0a2a31" font-weight="normal" text-anchor="start" textLength="35.5" lengthAdjust="spacingAndGlyphs" stroke="#0a2a31" stroke-width="0.45">Volume</text>
<text x="885.2" y="390.9" font-size="12.4" fill="#0a2a31" font-weight="normal" text-anchor="start" textLength="34.8" lengthAdjust="spacingAndGlyphs" stroke="#0a2a31" stroke-width="0.45">512375</text>
<rect x="858.3" y="462.1" width="61.7" height="4.6" fill="#ffffff"/>
<rect x="876.9" y="462.1" width="1.3" height="4.5" fill="#8a8a8a"/>
<rect x="858.3" y="466.6" width="61.7" height="20" fill="#2196f3"/>
<rect x="876.9" y="466.6" width="1.3" height="20" fill="#1a76c6"/>
<rect x="878" y="475.8" width="2.5" height="1" fill="#dff"/>
<text x="866.0" y="480.0" font-size="12.4" fill="#fff" font-weight="normal" text-anchor="start" textLength="5.2" lengthAdjust="spacingAndGlyphs" stroke="#fff" stroke-width="0.50">K</text>
<text x="885.2" y="480.0" font-size="12.4" fill="#fff" font-weight="normal" text-anchor="start" textLength="27.0" lengthAdjust="spacingAndGlyphs" stroke="#fff" stroke-width="0.50">81.30</text>
<rect x="64.0" y="520" width="1" height="2.6" fill="#c4c4c4"/>
<text x="64.5" y="539.7" font-size="12.9" fill="#ececec" font-weight="normal" text-anchor="middle" textLength="10.8" lengthAdjust="spacingAndGlyphs" stroke="#ececec" stroke-width="0.75">16</text>
<rect x="138.1" y="520" width="1" height="2.6" fill="#c4c4c4"/>
<text x="138.6" y="539.7" font-size="12.9" fill="#ececec" font-weight="normal" text-anchor="middle" textLength="21.0" lengthAdjust="spacingAndGlyphs" stroke="#ececec" stroke-width="0.75">May</text>
<rect x="278.6" y="520" width="1" height="2.6" fill="#c4c4c4"/>
<text x="279.1" y="539.7" font-size="12.9" fill="#ececec" font-weight="normal" text-anchor="middle" textLength="18.5" lengthAdjust="spacingAndGlyphs" stroke="#ececec" stroke-width="0.75">Jun</text>
<rect x="352.7" y="520" width="1" height="2.6" fill="#c4c4c4"/>
<text x="353.2" y="539.7" font-size="12.9" fill="#ececec" font-weight="normal" text-anchor="middle" textLength="10.8" lengthAdjust="spacingAndGlyphs" stroke="#ececec" stroke-width="0.75">16</text>
<rect x="426.2" y="520" width="1" height="2.6" fill="#c4c4c4"/>
<text x="426.7" y="539.7" font-size="12.9" fill="#ececec" font-weight="normal" text-anchor="middle" textLength="14.5" lengthAdjust="spacingAndGlyphs" stroke="#ececec" stroke-width="0.75">Jul</text>
<rect x="500.1" y="520" width="1" height="2.6" fill="#c4c4c4"/>
<text x="500.6" y="539.7" font-size="12.9" fill="#ececec" font-weight="normal" text-anchor="middle" textLength="10.8" lengthAdjust="spacingAndGlyphs" stroke="#ececec" stroke-width="0.75">16</text>
<rect x="580.8" y="520" width="1" height="2.6" fill="#c4c4c4"/>
<text x="581.3" y="539.7" font-size="12.9" fill="#ececec" font-weight="normal" text-anchor="middle" textLength="19.2" lengthAdjust="spacingAndGlyphs" stroke="#ececec" stroke-width="0.75">Aug</text>
<rect x="721.8" y="520" width="1" height="2.6" fill="#c4c4c4"/>
<text x="722.3" y="539.7" font-size="12.9" fill="#ececec" font-weight="normal" text-anchor="middle" textLength="18.7" lengthAdjust="spacingAndGlyphs" stroke="#ececec" stroke-width="0.75">Sep</text>
<rect x="795.6" y="520" width="1" height="2.6" fill="#c4c4c4"/>
<text x="796.1" y="539.7" font-size="12.9" fill="#ececec" font-weight="normal" text-anchor="middle" textLength="10.8" lengthAdjust="spacingAndGlyphs" stroke="#ececec" stroke-width="0.75">16</text>
<rect x="869.2" y="520" width="1" height="2.6" fill="#c4c4c4"/>
<clipPath id="c"><rect x="800" y="521" width="77" height="29"/></clipPath>
<g clip-path="url(#c)">
<text x="860.9" y="539.7" font-size="12.9" fill="#ececec" font-weight="normal" text-anchor="start" textLength="17.6" lengthAdjust="spacingAndGlyphs" stroke="#ececec" stroke-width="0.75">Oct</text>
</g>
<text x="5.8" y="16.7" font-size="10.2" fill="#ececec" font-weight="bold" text-anchor="start" textLength="77.6" lengthAdjust="spacingAndGlyphs" stroke="#ececec" stroke-width="0.12">EURUSD, 1D, FXCM</text>
<text x="5.8" y="31.3" font-size="10.2" fill="#e0e0e0" font-weight="normal" text-anchor="start" textLength="12.6" lengthAdjust="spacingAndGlyphs" stroke="#e0e0e0" stroke-width="0.50">Vol</text>
<text x="5.8" y="45.6" font-size="10.2" fill="#e0e0e0" font-weight="normal" text-anchor="start" textLength="52.5" lengthAdjust="spacingAndGlyphs" stroke="#e0e0e0" stroke-width="0.50">MA (13, hlc3)</text>
<text x="5.8" y="59.9" font-size="10.2" fill="#e0e0e0" font-weight="normal" text-anchor="start" textLength="40.3" lengthAdjust="spacingAndGlyphs" stroke="#e0e0e0" stroke-width="0.50">ViTO (1W)</text>
<text x="5.7" y="479.8" font-size="10.2" fill="#e2e2e2" font-weight="normal" text-anchor="start" textLength="113.0" lengthAdjust="spacingAndGlyphs" stroke="#e2e2e2" stroke-width="0.50">Stoch RSI (3, 3, 14, 14, close)</text>
</svg></body></html>
